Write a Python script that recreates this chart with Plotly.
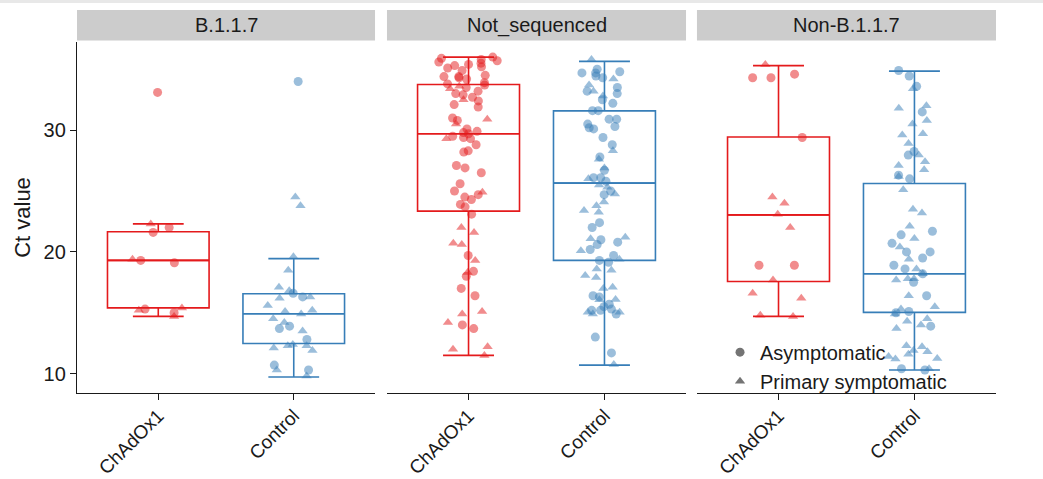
import plotly.graph_objects as go

# ---------------- data ----------------
VARIANTS = ["B.1.1.7", "Not_sequenced", "Non-B.1.1.7"]
ARMS = ["ChAdOx1", "Control"]
SYMPTOMS = ["Asymptomatic", "Primary symptomatic"]
Y_TICKS = [10, 20, 30]

# Ct values, per variant / arm / symptom group
b117_chadox_asym = [33.1, 22.0, 21.6, 19.3, 19.1, 15.3, 15.0]
b117_chadox_symp = [22.3, 19.4, 15.4, 15.2, 14.7]
b117_control_asym = [34.0, 16.6, 16.3, 13.9, 13.7, 12.8, 10.7, 10.3]
b117_control_symp = [24.5, 23.8, 19.6, 18.5, 17.1, 16.8, 16.3, 16.2, 15.6, 15.2, 15.1,
                     14.9, 14.5, 14.2, 13.5, 12.4, 12.3, 12.3, 12.1, 11.9, 10.3, 9.8]

notseq_chadox_asym = [36.0, 35.9, 35.8, 35.7, 35.6, 35.5, 35.4, 35.3, 35.2, 35.1, 34.9,
                      34.5, 34.4, 34.4, 34.3, 34.2, 33.9, 33.8, 33.7, 33.5, 33.2, 33.0,
                      32.9, 32.7, 32.4, 32.1, 31.9, 31.0, 30.8, 30.1, 29.9, 29.8, 29.7,
                      29.5, 29.4, 29.3, 28.8, 28.3, 28.2, 27.1, 26.9, 26.5, 25.6, 25.0,
                      24.7, 24.5, 24.3, 23.9, 23.7, 23.1, 19.7, 18.4, 18.0, 17.0, 16.4,
                      14.0, 13.7]
notseq_chadox_symp = [33.6, 33.4, 32.5, 30.9, 30.5, 29.3, 24.9, 22.0, 21.6, 20.7, 20.6,
                      19.3, 18.3, 15.1, 14.9, 14.2, 12.2, 12.0, 11.5]
notseq_control_asym = [35.0, 34.8, 34.7, 34.7, 34.45, 34.3, 33.5, 33.2, 33.0, 32.5, 32.2,
                       31.6, 31.6, 30.9, 30.9, 30.5, 30.3, 30.2, 30.1, 29.4, 28.8, 27.8,
                       26.7, 26.1, 26.1, 25.8, 25.0, 24.7, 22.4, 22.0, 21.0, 20.8, 20.6,
                       20.2, 19.7, 19.3, 19.15, 16.4, 16.3, 15.7, 15.5, 15.3, 15.2, 15.2,
                       14.9, 13.0, 11.7]
notseq_control_symp = [35.8, 34.2, 33.7, 33.2, 32.8, 28.3, 27.6, 26.9, 26.0, 25.5, 25.3,
                       24.75, 24.1, 23.8, 23.4, 23.25, 21.2, 21.07, 20.1, 19.4, 18.6,
                       18.5, 18.06, 17.9, 17.1, 17.0, 16.1, 16.06, 15.05, 15.05, 14.9,
                       10.76]

nonb117_chadox_asym = [34.6, 34.3, 34.3, 29.4, 18.9, 18.9]
nonb117_chadox_symp = [35.4, 24.5, 24.0, 23.1, 22.0, 17.7, 16.6, 16.2, 14.8, 14.7]
nonb117_control_asym = [34.9, 34.45, 33.6, 31.5, 28.25, 27.95, 26.3, 26.0, 21.7, 21.4,
                        20.7, 20.0, 20.0, 19.5, 18.9, 18.6, 18.2, 17.5, 16.4, 15.1, 15.0,
                        13.9, 10.4, 10.3]
nonb117_control_symp = [33.4, 32.0, 31.8, 30.8, 30.5, 29.7, 29.6, 28.9, 27.95, 27.4, 27.1,
                        26.75, 26.2, 25.1, 23.5, 23.2, 22.1, 21.1, 20.4, 19.4, 18.6, 18.2,
                        17.8, 17.8, 17.7, 16.4, 15.5, 15.3, 14.9, 14.5, 14.3, 14.0, 13.7,
                        12.3, 12.2, 11.9, 11.8, 11.6, 11.4, 11.25, 11.2, 10.4]

# box statistics (order: B.1.1.7 ChAdOx1, B.1.1.7 Control, Not_seq ChAdOx1, ...)
BOX_LO = [14.7, 9.72, 11.5, 10.7, 14.7, 10.3]
BOX_Q1 = [15.4, 12.48, 23.35, 19.3, 17.57, 15.03]
BOX_MED = [19.3, 14.92, 29.7, 25.65, 23.04, 18.2]
BOX_Q3 = [21.65, 16.56, 33.75, 31.58, 29.44, 25.62]
BOX_HI = [22.3, 19.45, 36.0, 35.65, 35.3, 34.85]

POINTS = {
    ("B.1.1.7", "ChAdOx1"): (b117_chadox_asym, b117_chadox_symp),
    ("B.1.1.7", "Control"): (b117_control_asym, b117_control_symp),
    ("Not_sequenced", "ChAdOx1"): (notseq_chadox_asym, notseq_chadox_symp),
    ("Not_sequenced", "Control"): (notseq_control_asym, notseq_control_symp),
    ("Non-B.1.1.7", "ChAdOx1"): (nonb117_chadox_asym, nonb117_chadox_symp),
    ("Non-B.1.1.7", "Control"): (nonb117_control_asym, nonb117_control_symp),
}

# ---------------- styling ----------------
COLORS = {"ChAdOx1": "#E41A1C", "Control": "#377EB8"}
SYMBOLS = {"Asymptomatic": "circle", "Primary symptomatic": "triangle-up"}
FONT = "Liberation Sans, Arial, Helvetica, sans-serif"
AXCOL = "#1a1a1a"
DOMAINS = [[0.0, 0.3243], [0.3373, 0.6627], [0.6746, 1.0]]
BOXW = 0.75

fig = go.Figure()

k = 0
for i, var in enumerate(VARIANTS):
    xa = "x" if i == 0 else f"x{i+1}"
    for arm in ARMS:
        c = COLORS[arm]
        # box
        fig.add_trace(go.Box(
            x=[arm], q1=[BOX_Q1[k]], median=[BOX_MED[k]], q3=[BOX_Q3[k]],
            lowerfence=[BOX_LO[k]], upperfence=[BOX_HI[k]],
            xaxis=xa, yaxis="y", width=BOXW, boxpoints=False,
            line=dict(color=c, width=1.6), fillcolor="white",
            showlegend=False, hoverinfo="skip"))
        # thicker median bar
        m = BOX_MED[k]
        fig.add_trace(go.Box(
            x=[arm], q1=[m], median=[m], q3=[m], lowerfence=[m], upperfence=[m],
            xaxis=xa, yaxis="y", width=BOXW, boxpoints=False,
            line=dict(color=c, width=1.6), fillcolor=c,
            showlegend=False, hoverinfo="skip"))
        k += 1
    for arm in ARMS:
        c = COLORS[arm]
        for sym, vals in zip(SYMPTOMS, POINTS[(var, arm)]):
            fig.add_trace(go.Box(
                x=[arm] * len(vals), y=vals, xaxis=xa, yaxis="y",
                width=BOXW, boxpoints="all", jitter=0.6, pointpos=0,
                marker=dict(symbol=SYMBOLS[sym], color=c, opacity=0.5, size=9,
                            line=dict(width=0)),
                line=dict(width=0, color="rgba(0,0,0,0)"),
                fillcolor="rgba(0,0,0,0)", showlegend=False, hoverinfo="y"))

# legend entries (grey shapes)
for sym in SYMPTOMS:
    fig.add_trace(go.Scatter(
        x=[None], y=[None], mode="markers", name=sym, xaxis="x3", yaxis="y",
        marker=dict(symbol=SYMBOLS[sym], color="rgba(70,70,70,0.75)", size=9)))

axis_common = dict(
    type="category", categoryorder="array", categoryarray=ARMS,
    range=[-0.6, 1.6], showline=True, linecolor=AXCOL, linewidth=1.3,
    ticks="outside", ticklen=6, tickwidth=1.3, tickcolor=AXCOL, tickangle=-45,
    showgrid=False, zeroline=False, anchor="y", automargin=False,
    ticklabelstandoff=-3,
    tickfont=dict(size=19, color=AXCOL, family=FONT))

layout = dict(
    width=1043, height=479,
    margin=dict(l=77, r=47, t=42, b=86, autoexpand=False),
    plot_bgcolor="white", paper_bgcolor="white",
    boxmode="overlay",
    font=dict(family=FONT, size=20, color=AXCOL),
    legend=dict(x=0.6997, y=0.172, xanchor="left", yanchor="top",
                bgcolor="rgba(0,0,0,0)", font=dict(size=20, color=AXCOL),
                tracegroupgap=0, itemwidth=30),
    yaxis=dict(range=[8.41, 37.24], tickvals=Y_TICKS, showline=True,
               linecolor=AXCOL, linewidth=1.3, ticks="outside", ticklen=6,
               tickwidth=1.3, tickcolor=AXCOL, showgrid=False, zeroline=False,
               anchor="x", domain=[0, 1], automargin=False,
               tickfont=dict(size=20, color=AXCOL, family=FONT),
               title=dict(text="Ct value", font=dict(size=22, color=AXCOL, family=FONT),
                          standoff=6)),
)
for i in range(3):
    name = "xaxis" if i == 0 else f"xaxis{i+1}"
    layout[name] = dict(axis_common, domain=DOMAINS[i])

shapes = [dict(type="rect", xref="paper", yref="paper", x0=-0.0838, x1=1.0512,
               y0=1.1111, y1=1.1197, fillcolor="#E8E8E8", line=dict(width=0))]
annotations = []
for i, var in enumerate(VARIANTS):
    d0, d1 = DOMAINS[i]
    shapes.append(dict(type="rect", xref="paper", yref="paper", x0=d0, x1=d1,
                       y0=1.004, y1=1.091, fillcolor="#CCCCCC", line=dict(width=0)))
    annotations.append(dict(text=var, xref="paper", yref="paper", x=(d0 + d1) / 2,
                            y=1.0475, xanchor="center", yanchor="middle", showarrow=False,
                            font=dict(size=20, color=AXCOL, family=FONT)))
layout["shapes"] = shapes
layout["annotations"] = annotations

fig.update_layout(**layout)
fig.write_html(
    "out.html",
    config={"displayModeBar": False},
    post_script="document.body.style.margin='0';document.body.style.overflow='hidden';",
)
